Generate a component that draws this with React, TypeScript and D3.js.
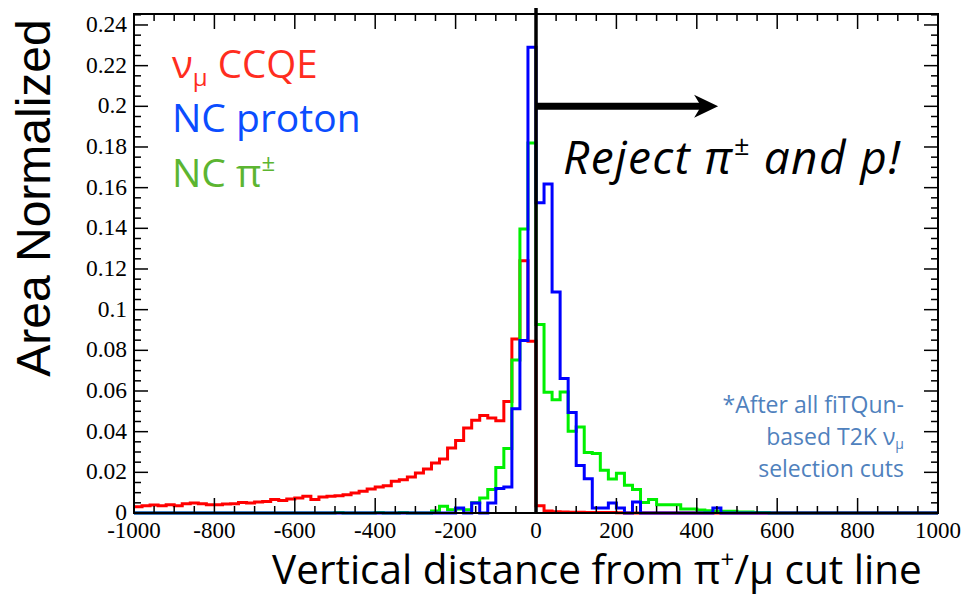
import React from 'react';
import * as d3 from 'd3';

const binLow = -1000;
const binWidth = 20;

const ccqe = [
  0.0031, 0.0036, 0.0039, 0.0036, 0.0041, 0.0036, 0.0046, 0.0049, 0.0046, 0.0041,
  0.0041, 0.0044, 0.0046, 0.0052, 0.0049, 0.0054, 0.0057, 0.0066, 0.0062, 0.0069,
  0.0074, 0.0082, 0.0066, 0.0079, 0.0082, 0.0085, 0.009, 0.0098, 0.0107, 0.0118,
  0.0128, 0.0134, 0.0156, 0.0164, 0.0177, 0.0197, 0.0216, 0.0246, 0.0266, 0.032,
  0.0356, 0.0418, 0.0456, 0.0479, 0.0467, 0.0454, 0.0548, 0.0856, 0.124, 0.0845,
  0.0036, 0.001, 0.0006, 0.0005, 0.0004, 0.0004, 0.0003, 0.0003, 0.0002, 0.0002,
  0.0001, 0, 0, 0, 0, 0, 0, 0, 0, 0,
  0, 0, 0, 0, 0, 0, 0, 0, 0, 0,
  0, 0, 0, 0, 0, 0, 0, 0, 0, 0,
  0, 0, 0, 0, 0, 0, 0, 0, 0, 0,
];

const ncPion = [
  0, 0, 0, 0, 0, 0, 0, 0, 0, 0,
  0, 0, 0, 0, 0, 0, 0, 0, 0, 0,
  0, 0, 0, 0, 0, 0.0003, 0, 0, 0, 0,
  0.0003, 0, 0, 0.0002, 0, 0, 0, 0.001, 0.0033, 0.0016,
  0.002, 0.0016, 0.005, 0.0074, 0.0115, 0.0224, 0.0317, 0.0753, 0.1397, 0.182,
  0.0927, 0.0594, 0.0557, 0.0595, 0.0402, 0.0423, 0.0297, 0.0292, 0.021, 0.0167,
  0.0195, 0.0137, 0.0115, 0.0052, 0.0066, 0.0041, 0.004, 0.0041, 0.002, 0.002,
  0.0015, 0.0011, 0.0008, 0.0008, 0.0008, 0.0005, 0.0005, 0.0003, 0.0002, 0,
  0, 0, 0, 0, 0, 0, 0, 0, 0, 0,
  0, 0, 0, 0, 0, 0, 0, 0, 0, 0,
];

const ncProton = [
  0, 0, 0, 0, 0, 0, 0, 0, 0, 0,
  0, 0, 0, 0, 0, 0, 0, 0, 0, 0,
  0, 0, 0, 0, 0, 0, 0, 0, 0, 0,
  0, 0, 0, 0, 0, 0, 0, 0, 0, 0,
  0.0025, 0, 0.0049, 0, 0.0049, 0.0121, 0.0128, 0.0513, 0.0848, 0.229,
  0.1526, 0.1618, 0.1087, 0.0662, 0.0494, 0.0234, 0.0169, 0.0025, 0.0025, 0.0049,
  0.0025, 0, 0.0054, 0, 0, 0, 0, 0, 0, 0,
  0, 0, 0.0025, 0, 0, 0, 0, 0, 0, 0,
  0, 0, 0, 0, 0, 0, 0, 0, 0, 0,
  0, 0, 0, 0, 0, 0, 0, 0, 0, 0,
];

const xTickValues = [-1000, -800, -600, -400, -200, 0, 200, 400, 600, 800, 1000];
const yTickValues = [0, 0.02, 0.04, 0.06, 0.08, 0.1, 0.12, 0.14, 0.16, 0.18, 0.2, 0.22, 0.24];

const xDomain: [number, number] = [-1000, 1000];
const yDomain: [number, number] = [0, 0.2454];

const W = 961;
const H = 597;
const left = 134;
const right = 938;
const top = 14;
const bottom = 513;

export default function App() {
  const x = d3.scaleLinear().domain(xDomain).range([left, right]);
  const y = d3.scaleLinear().domain(yDomain).range([bottom, top]);

  const stepPath = (vals: number[]) => {
    const pts: [number, number][] = vals.map((v, i) => [binLow + i * binWidth, v]);
    pts.push([binLow + vals.length * binWidth, vals[vals.length - 1]]);
    return d3
      .line<[number, number]>()
      .x((d) => x(d[0]))
      .y((d) => y(d[1]))
      .curve(d3.curveStepAfter)(pts) as string;
  };

  const xMinor = d3.range(-1000, 1000.1, 50);
  const yMinor = d3.range(0, 0.2451, 0.005);

  const serif = '"Liberation Serif", "Times New Roman", serif';
  const sans = '"Open Sans", "Noto Sans", sans-serif';

  const arrowY = y(0.2);
  const arrowX0 = x(0);
  const arrowX1 = x(453);

  return (
    <svg
      width={W}
      height={H}
      viewBox={`0 0 ${W} ${H}`}
      style={{ position: 'absolute', left: 0, top: 0, background: '#fff' }}
    >
      <rect x={0} y={0} width={W} height={H} fill="#fff" />

      {/* histograms */}
      <path d={stepPath(ccqe)} fill="none" stroke="#ff0000" strokeWidth={3} />
      <path d={stepPath(ncPion)} fill="none" stroke="#00f000" strokeWidth={3} />
      <path d={stepPath(ncProton)} fill="none" stroke="#0000ff" strokeWidth={3} />

      {/* frame */}
      <rect x={left} y={top} width={right - left} height={bottom - top} fill="none" stroke="#000" strokeWidth={2} />

      {/* x ticks */}
      {xMinor.map((v) => {
        const major = Math.abs(Math.round(v) % 200) === 0;
        const len = major ? 15 : 7;
        const xx = x(v);
        return (
          <g key={'xt' + v}>
            <line x1={xx} x2={xx} y1={bottom} y2={bottom - len} stroke="#000" strokeWidth={1.5} />
            <line x1={xx} x2={xx} y1={top} y2={top + len} stroke="#000" strokeWidth={1.5} />
          </g>
        );
      })}
      {/* y ticks */}
      {yMinor.map((v, i) => {
        const major = i % 4 === 0;
        const len = major ? 14 : 7;
        const yy = y(v);
        return (
          <g key={'yt' + i}>
            <line x1={left} x2={left + len} y1={yy} y2={yy} stroke="#000" strokeWidth={1.5} />
            <line x1={right} x2={right - len} y1={yy} y2={yy} stroke="#000" strokeWidth={1.5} />
          </g>
        );
      })}

      {/* tick labels */}
      {xTickValues.map((v) => (
        <text key={'xl' + v} x={x(v)} y={538} textAnchor="middle" fontFamily={serif} fontSize={23} fill="#000">
          {v}
        </text>
      ))}
      {yTickValues.map((v) => (
        <text key={'yl' + v} x={127} y={y(v) + 7} textAnchor="end" fontFamily={serif} fontSize={23.5} fill="#000">
          {d3.format('')(v)}
        </text>
      ))}

      {/* cut line */}
      <line x1={x(0)} x2={x(0)} y1={8} y2={bottom} stroke="#000" strokeWidth={3.5} />
      {/* arrow */}
      <line x1={arrowX0} x2={arrowX1 - 16} y1={arrowY} y2={arrowY} stroke="#000" strokeWidth={7} />
      <path
        d={`M${arrowX1},${arrowY} L${arrowX1 - 24},${arrowY - 11.5} L${arrowX1 - 17},${arrowY} L${arrowX1 - 24},${arrowY + 11.5} Z`}
        fill="#000"
      />

      {/* annotation */}
      <text
        x={563}
        y={174}
        fontFamily={sans}
        fontStyle="italic"
        fontSize={46}
        fill="#000"
        textLength={337}
        lengthAdjust="spacing"
      >
        Reject π
        <tspan fontSize={27} dy={-19}>±</tspan>
        <tspan dy={19}> and p!</tspan>
      </text>

      {/* legend */}
      <text x={172} y={78} fontFamily={sans} fontSize={38.5} fill="#ff2d1f">
        ν<tspan fontSize={24} dy={8}>μ</tspan>
        <tspan dy={-8}> CCQE</tspan>
      </text>
      <text x={172} y={132} fontFamily={sans} fontSize={39} fill="#0b4dff">
        NC proton
      </text>
      <text x={172} y={187} fontFamily={sans} fontSize={39} fill="#5cb531">
        NC π<tspan fontSize={24} dy={-16}>±</tspan>
      </text>

      {/* note */}
      <g fontFamily={sans} fontSize={23} fill="#4f81bd" textAnchor="end">
        <text x={904} y={413}>*After all fiTQun-</text>
        <text x={904} y={445}>
          based T2K ν<tspan fontSize={14} dy={4}>μ</tspan>
        </text>
        <text x={904} y={477}>selection cuts</text>
      </g>

      {/* axis titles */}
      <text
        transform={`translate(50, 198) rotate(-90)`}
        textAnchor="middle"
        fontFamily='"Liberation Sans", Arial, sans-serif'
        fontSize={48}
        fill="#000"
      >
        Area Normalized
      </text>
      <text x={272} y={584} fontFamily={sans} fontSize={40.5} fill="#000">
        Vertical distance from π<tspan fontSize={24} dy={-16}>+</tspan>
        <tspan dy={16}>/μ  cut line</tspan>
      </text>
    </svg>
  );
}
